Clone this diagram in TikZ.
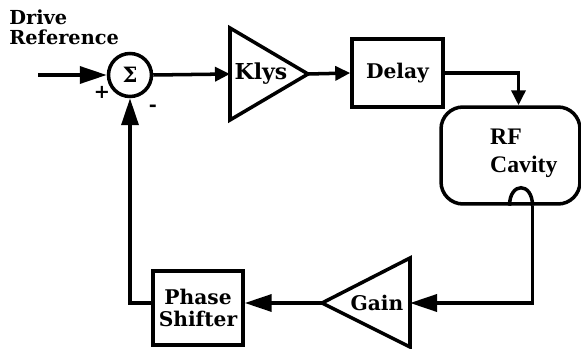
\documentclass[tikz,border=0pt]{standalone}
\usepackage{fontspec}
\setmainfont{DejaVu Serif}
\newfontfamily\cavityfont{Liberation Serif}
\usetikzlibrary{arrows.meta,calc,positioning}

\begin{document}
\begin{tikzpicture}[x=0.02cm,y=-0.02cm,
  font=\bfseries\fontsize{11.5}{12}\selectfont,
  flow/.style={-{Triangle[length=0.54cm,width=0.34cm]},line width=2pt},
  shortflow/.style={-{Triangle[length=0.3cm,width=0.28cm]},line width=2pt},
  link/.style={line width=2pt},
  block/.style={draw,line width=2pt,align=center,inner sep=2pt},
  amp/.style={draw,line width=2pt,line join=miter},
  sign/.style={inner sep=0pt,font=\bfseries\fontsize{11}{11}\selectfont}
]
\useasboundingbox (0,0) rectangle (581,348);
% Forward path: reference, summing junction, klystron and delay.
\node[align=left,anchor=north west,inner sep=0pt,font=\bfseries\fontsize{11}{11.5}\selectfont]
  (drive) at (9,9) {Drive\\Reference};
\coordinate (in) at (38,75);
\node[draw,circle,line width=2pt,minimum size=0.86cm,inner sep=0pt] (sum) at (130,75)
  {\fontsize{12}{12}\selectfont Σ};
\node[sign] (plus) at (102,92) {+};
\node[sign] (minus) at (153,108) {-};
\coordinate (klys in) at (230,74);
\coordinate (klys out) at (308,74);
\draw[amp] ($(klys in)+(0,-46)$) -- (klys out) -- ($(klys in)+(0,46)$) -- cycle;
\node[font=\bfseries\fontsize{12.5}{13}\selectfont] (klys) at (261,74) {Klys};
\node[block,minimum width=1.82cm,minimum height=1.36cm] (delay) at (397.5,73) {Delay};
\node[draw,line width=2pt,rounded corners=0.44cm,minimum width=2.78cm,minimum height=1.94cm]
  (cavity) at (510.5,155.5) {};
\node[anchor=west,align=left,font=\cavityfont\bfseries\fontsize{13.5}{16}\selectfont] (rf)
  at (484,153) {RF\\Cavity};
\draw[flow] (in) -- (sum.west);
\draw[shortflow] (sum.east) -- (klys in);
\draw[shortflow] (klys out) -- (delay.west);
\coordinate (drop) at ($(cavity.north)+(8,0)$);
\draw[shortflow] (delay.east) -| (drop);
% Feedback path: pickup loop, gain and phase shifter.
\coordinate (tap) at ($(cavity.south)+(22,0)$);
\draw[link] (tap) .. controls +(0,-24) and +(0,-24) .. ($(tap)+(-23,0)$);
\coordinate (gain in) at (410,303);
\coordinate (gain out) at (322,303);
\draw[amp] ($(gain in)+(0,-45)$) -- (gain out) -- ($(gain in)+(0,44)$) -- cycle;
\node (gain) at (377,303) {Gain};
\node[block,minimum width=1.8cm,minimum height=1.48cm] (phase) at (198,308) {Phase\\Shifter};
\draw[flow] (tap) |- (gain in);
\draw[flow] (gain out) -- (phase.east |- gain out);
\draw[flow] (phase.west |- gain out) -| (sum.south);
\end{tikzpicture}
\end{document}
